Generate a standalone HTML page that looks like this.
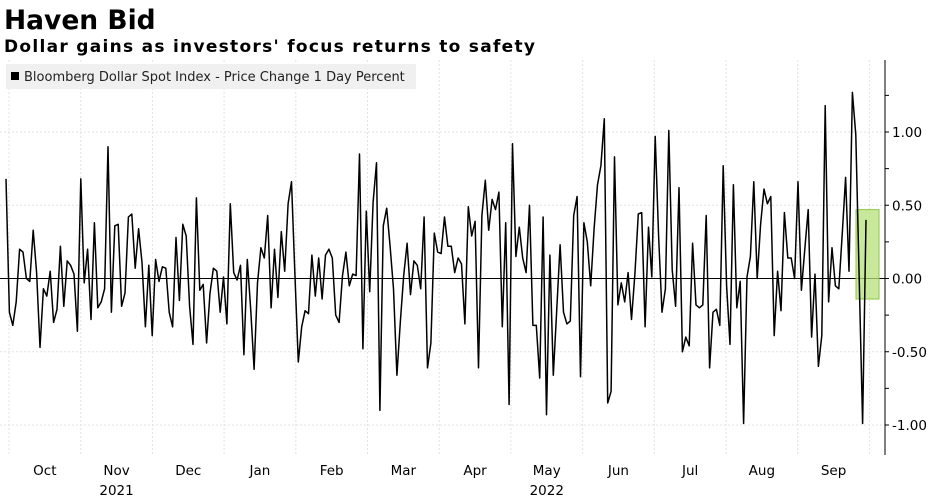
<!DOCTYPE html>
<html><head><meta charset="utf-8"><style>
body{margin:0;background:#fff;width:942px;height:500px;overflow:hidden;font-family:"DejaVu Sans",sans-serif}
svg{position:absolute;left:0;top:0}
</style></head><body>
<svg width="942" height="500">
<text x="4" y="29" font-size="26.5" font-weight="bold" fill="#000">Haven Bid</text>
<text x="4" y="52" font-size="17" font-weight="bold" fill="#000" textLength="531" lengthAdjust="spacing">Dollar gains as investors' focus returns to safety</text>
<g id="grid"></g>
<rect x="6" y="64" width="410" height="25" fill="#f0f0f0"/>
<rect x="11" y="72" width="8" height="8" fill="#000"/>
<text x="24" y="81" font-size="13" fill="#222">Bloomberg Dollar Spot Index - Price Change 1 Day Percent</text>
<g id="marks"></g>
<g id="axis"></g>
</svg>
<script>
const values=[0.68,-0.23,-0.32,-0.16,0.2,0.18,0,-0.02,0.33,0.04,-0.47,-0.07,-0.12,0.05,-0.3,-0.21,0.22,-0.19,0.12,0.09,0.03,-0.36,0.68,-0.03,0.2,-0.28,0.38,-0.2,-0.16,-0.07,0.9,-0.23,0.36,0.37,-0.19,-0.1,0.42,0.44,0.07,0.34,0.11,-0.33,0.09,-0.39,0.13,-0.02,0.08,0.07,-0.23,-0.33,0.28,-0.15,
0.37,0.29,-0.19,-0.45,0.55,-0.08,-0.04,-0.44,-0.1,0.07,0.05,-0.23,0.01,-0.31,0.51,0.04,-0.01,0.09,-0.52,0.13,-0.21,-0.62,-0.03,0.21,0.14,0.43,-0.2,0.2,-0.13,0.32,0.05,0.51,0.66,0.03,-0.57,-0.33,-0.22,-0.24,0.16,-0.12,0.14,-0.14,0.16,0.2,0.14,-0.25,-0.3,0.02,0.18,-0.05,0.03,
0.02,0.85,-0.48,0.46,-0.09,0.52,0.79,-0.9,0.36,0.48,0.22,-0.07,-0.66,-0.3,0.02,0.24,-0.11,0.12,0.09,-0.07,0.42,-0.61,-0.44,0.31,0.18,0.17,0.42,0.22,0.22,0.04,0.14,0.1,-0.31,0.49,0.29,0.39,-0.61,0.43,0.67,0.33,0.54,0.47,0.59,-0.33,0.38,-0.86,0.92,
0.15,0.35,0.14,0.04,0.5,-0.32,-0.32,-0.68,0.42,-0.93,0.16,-0.66,-0.22,0.23,-0.23,-0.31,-0.29,0.43,0.56,-0.67,0.38,0.25,-0.05,0.34,0.64,0.77,1.09,-0.85,-0.77,0.83,-0.18,-0.03,-0.16,0.04,-0.28,0.03,0.44,0.45,-0.33,0.35,0.01,0.97,0.29,-0.23,-0.07,1.01,0.06,-0.19,0.62,-0.5,-0.4,
-0.46,0.24,-0.18,-0.2,-0.18,0.43,-0.61,-0.23,-0.21,-0.32,0.77,-0.05,-0.45,0.64,-0.2,-0.02,-0.99,0.01,0.15,0.66,0,0.37,0.61,0.51,0.56,-0.39,0.05,-0.22,0.45,0.14,0.14,0,0.66,-0.08,0.2,0.47,-0.4,0.03,-0.6,-0.39,1.18,-0.16,0.21,-0.05,-0.07,0.3,0.69,0.05,1.27,0.98,0.0,-0.99,0.4];
const yTicks=[1.0,0.5,0.0,-0.5,-1.0];
const yTickLabels=["1.00","0.50","0.00","-0.50","-1.00"];
const months=["Oct","Nov","Dec","Jan","Feb","Mar","Apr","May","Jun","Jul","Aug","Sep"];
const years=[{label:"2021",month:1},{label:"2022",month:7}];
const highlightRange=[-0.14,0.47];

const NS="http://www.w3.org/2000/svg";
const X0=6,X1=866,PT=60,PB=455,AX=885;
const yS=v=>278.5-v*146.5;
const xS=i=>X0+i*(X1-X0)/(values.length-1);
const monthStart=m=>9+m*71.7;
function mk(tag,attrs,parent){const e=document.createElementNS(NS,tag);for(const k in attrs)e.setAttribute(k,attrs[k]);parent.appendChild(e);return e;}
const grid=document.getElementById('grid'),marks=document.getElementById('marks'),axis=document.getElementById('axis');
yTicks.forEach(v=>{if(v!==0){const l=mk('line',{x1:0,x2:AX,y1:yS(v),y2:yS(v),stroke:'#e2e2e2','stroke-dasharray':'2,2'},grid);

}});
for(let m=0;m<=12;m++){const l=mk('line',{x1:monthStart(m),x2:monthStart(m),y1:PT,y2:PB,stroke:'#e2e2e2','stroke-dasharray':'2,2'},grid);

}
const z=mk('line',{x1:0,x2:AX,y1:yS(0),y2:yS(0),stroke:'#000','stroke-width':1},marks);


const hb=mk('rect',{x:856,y:yS(highlightRange[1]),width:23,height:yS(highlightRange[0])-yS(highlightRange[1]),fill:'#b5e27a','fill-opacity':0.75,stroke:'#8cc63f','stroke-width':1},marks);


const pl=mk('polyline',{points:values.map((v,i)=>xS(i).toFixed(1)+','+yS(v).toFixed(1)).join(' '),fill:'none',stroke:'#000','stroke-width':1.5,'stroke-linejoin':'round'},marks);


const ax=mk('line',{x1:AX,x2:AX,y1:PT,y2:PB,stroke:'#000','stroke-width':1},axis);


for(let v=-1.5;v<=1.26;v+=0.25){const yy=yS(v);if(yy<PT||yy>PB)continue;const tk=mk('line',{x1:AX,x2:AX+4,y1:yy,y2:yy,stroke:'#000'},axis);

}
yTicks.forEach((v,i)=>{const t=mk('text',{x:892,y:yS(v)+5,'font-size':13.5,fill:'#000'},axis);t.textContent=yTickLabels[i];

});
months.forEach((m,i)=>{const t=mk('text',{x:(monthStart(i)+monthStart(i+1))/2,y:475,'font-size':13.5,fill:'#000','text-anchor':'middle'},axis);t.textContent=m;

});
years.forEach(y=>{const t=mk('text',{x:(monthStart(y.month)+monthStart(y.month+1))/2,y:495,'font-size':13.5,fill:'#000','text-anchor':'middle'},axis);t.textContent=y.label;

});
</script>
</body></html>
